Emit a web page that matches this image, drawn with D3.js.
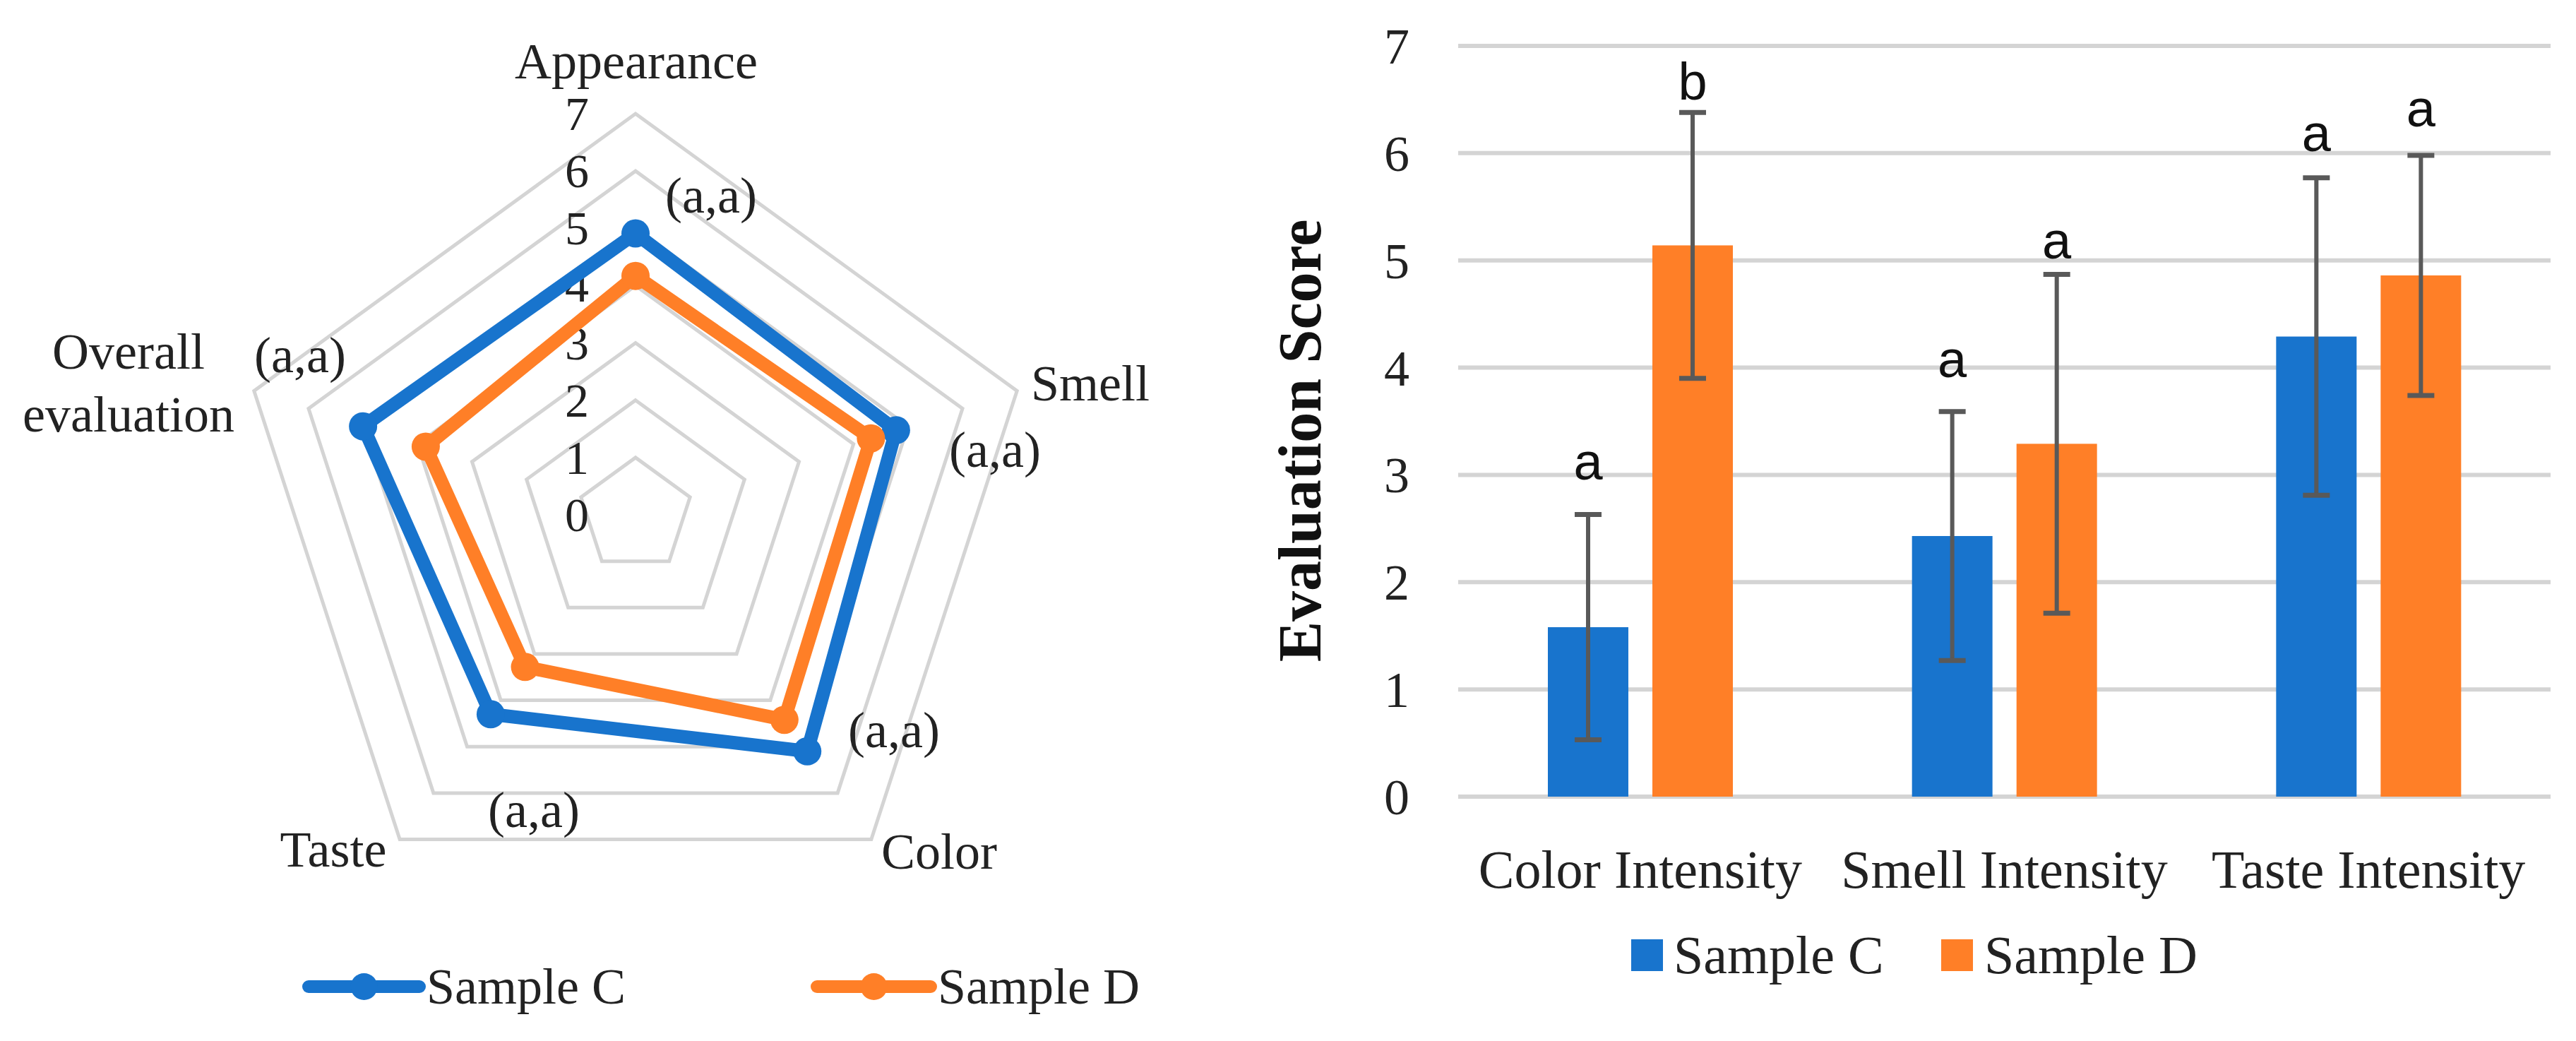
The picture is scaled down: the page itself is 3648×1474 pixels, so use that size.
<!DOCTYPE html>
<html><head><meta charset="utf-8">
<script src="https://cdn.jsdelivr.net/npm/d3@7"></script>
<style>html,body{margin:0;padding:0;background:#fff;} svg{display:block;}</style>
</head><body><svg id="chart" width="3648" height="1474"></svg>
<script>
// ---------- DATA ----------
const radarAxes = ["Appearance", "Smell", "Color", "Taste", "Overall evaluation"];
const radarSampleC = [4.91, 4.78, 5.10, 4.30, 5.00];
const radarSampleD = [4.17, 4.32, 4.42, 3.28, 3.85];
const radarSig = ["(a,a)", "(a,a)", "(a,a)", "(a,a)", "(a,a)"];
const radarTicks = [0, 1, 2, 3, 4, 5, 6, 7];

const barCategories = ["Color Intensity", "Smell Intensity", "Taste Intensity"];
const barSampleC = [1.58, 2.43, 4.29];
const barSampleD = [5.14, 3.29, 4.86];
const errSampleC = [1.05, 1.16, 1.48];
const errSampleD = [1.24, 1.58, 1.12];
const letterSampleC = ["a", "a", "a"];
const letterSampleD = ["b", "a", "a"];
const letterLevelC = [2.96, 3.91, 6.02];
const letterLevelD = [6.50, 5.02, 6.25];
const barTicks = [0, 1, 2, 3, 4, 5, 6, 7];
const seriesNames = ["Sample C", "Sample D"];

// ---------- STYLE ----------
const BLUE = "#1874CD", ORANGE = "#FF7F27", GRID = "#D4D4D4", ERR = "#595959";
const SERIF = "'Liberation Serif', 'Times New Roman', serif";
const SANS = "'Liberation Sans', Arial, sans-serif";

const svg = d3.select("#chart");

// ---------- RADAR ----------
const cx = 900, cy = 729, R = 568;
const rScale = d3.scaleLinear().domain([0, 7]).range([0, R]);
const ang = i => (-90 + 72 * i) * Math.PI / 180;
const pt = (i, v) => [cx + rScale(v) * Math.cos(ang(i)), cy + rScale(v) * Math.sin(ang(i))];

const radar = svg.append("g");
radar.selectAll("polygon.ring").data(radarTicks.filter(t => t > 0)).join("polygon")
  .attr("points", t => radarAxes.map((a, i) => pt(i, t).join(",")).join(" "))
  .attr("fill", "none").attr("stroke", GRID).attr("stroke-width", 5);

radar.selectAll("text.rt").data(radarTicks).join("text")
  .attr("x", 817).attr("y", t => cy - rScale(t))
  .attr("text-anchor", "middle").attr("dominant-baseline", "central")
  .attr("font-family", SERIF).attr("font-size", 68).attr("fill", "#222")
  .text(t => t);

const line = d3.line().curve(d3.curveLinearClosed);
const series = [{name: seriesNames[0], vals: radarSampleC, color: BLUE},
                {name: seriesNames[1], vals: radarSampleD, color: ORANGE}];
series.forEach(s => {
  radar.append("path")
    .attr("d", line(s.vals.map((v, i) => pt(i, v))))
    .attr("fill", "none").attr("stroke", s.color).attr("stroke-width", 19)
    .attr("stroke-linejoin", "round");
  radar.selectAll(null).data(s.vals).join("circle")
    .attr("cx", (v, i) => pt(i, v)[0]).attr("cy", (v, i) => pt(i, v)[1])
    .attr("r", 20).attr("fill", s.color);
});

const axisLabelPos = [
  {x: 901, y: 87},
  {x: 1544, y: 543},
  {x: 1330, y: 1206},
  {x: 472, y: 1203},
  {x: 182, y: 498}
];
radarAxes.forEach((name, i) => {
  const p = axisLabelPos[i];
  const t = radar.append("text").attr("text-anchor", "middle")
    .attr("font-family", SERIF).attr("font-size", 72).attr("fill", "#222");
  const parts = name === "Overall evaluation" ? ["Overall", "evaluation"] : [name];
  parts.forEach((ln, k) => {
    t.append("tspan").attr("x", p.x).attr("y", p.y + k * 89)
      .attr("dominant-baseline", "central").text(ln);
  });
});
const sigPos = [[1007, 277], [1409, 637], [1266, 1034], [756, 1147], [425, 503]];
radar.selectAll("text.sig").data(radarSig).join("text")
  .attr("x", (d, i) => sigPos[i][0]).attr("y", (d, i) => sigPos[i][1])
  .attr("text-anchor", "middle").attr("dominant-baseline", "central")
  .attr("font-family", SERIF).attr("font-size", 72).attr("fill", "#222")
  .text(d => d);

// radar legend
const rlegY = 1397;
const rleg = [{x0: 437, x1: 594, tx: 604}, {x0: 1157, x1: 1318, tx: 1328}];
series.forEach((s, k) => {
  const L = rleg[k];
  radar.append("line").attr("x1", L.x0).attr("x2", L.x1).attr("y1", rlegY).attr("y2", rlegY)
    .attr("stroke", s.color).attr("stroke-width", 18).attr("stroke-linecap", "round");
  radar.append("circle").attr("cx", (L.x0 + L.x1) / 2).attr("cy", rlegY).attr("r", 19).attr("fill", s.color);
  radar.append("text").attr("x", L.tx).attr("y", rlegY).attr("dominant-baseline", "central")
    .attr("font-family", SERIF).attr("font-size", 72).attr("fill", "#222").text(s.name);
});

// ---------- BAR CHART ----------
const left = 2065, right = 3612, y0 = 1128, y7 = 65;
const x0 = d3.scaleBand().domain(barCategories).range([left, right]).padding(0);
const x1 = d3.scaleBand().domain(seriesNames).range([127, 389]).paddingInner(0.23).paddingOuter(0);
const y = d3.scaleLinear().domain([0, 7]).range([y0, y7]);
const bar = svg.append("g");

bar.selectAll("line.grid").data(barTicks).join("line")
  .attr("x1", left).attr("x2", right).attr("y1", t => y(t)).attr("y2", t => y(t))
  .attr("stroke", GRID).attr("stroke-width", 6);

const yAxis = d3.axisLeft(y).tickValues(barTicks).tickFormat(d3.format("d")).tickSize(0).tickPadding(0);
const ya = bar.append("g").attr("transform", `translate(${1998},0)`).call(yAxis);
ya.select(".domain").remove();
ya.selectAll("text").attr("font-family", SERIF).attr("font-size", 72).attr("fill", "#222")
  .attr("text-anchor", "middle").attr("x", -20).attr("dy", "0.34em");

const xAxis = d3.axisBottom(x0).tickSize(0).tickPadding(0);
const xa = bar.append("g").attr("transform", `translate(0,${1231})`).call(xAxis);
xa.select(".domain").remove();
xa.selectAll("text").attr("font-family", SERIF).attr("font-size", 76).attr("fill", "#222")
  .attr("dy", "0.34em").attr("y", 0);

const barData = barCategories.map((c, i) => ([
  {cat: c, s: seriesNames[0], v: barSampleC[i], e: errSampleC[i], l: letterSampleC[i], ly: letterLevelC[i], color: BLUE},
  {cat: c, s: seriesNames[1], v: barSampleD[i], e: errSampleD[i], l: letterSampleD[i], ly: letterLevelD[i], color: ORANGE}
])).flat();

const g = bar.selectAll("g.b").data(barData).join("g")
  .attr("transform", d => `translate(${x0(d.cat) + x1(d.s)},0)`);
g.append("rect").attr("x", 0).attr("width", x1.bandwidth())
  .attr("y", d => y(d.v)).attr("height", d => y(0) - y(d.v)).attr("fill", d => d.color);
const bw = x1.bandwidth(), capW = 38;
g.append("line").attr("x1", bw / 2).attr("x2", bw / 2)
  .attr("y1", d => y(d.v + d.e)).attr("y2", d => y(d.v - d.e))
  .attr("stroke", ERR).attr("stroke-width", 6);
g.append("line").attr("x1", bw / 2 - capW / 2).attr("x2", bw / 2 + capW / 2)
  .attr("y1", d => y(d.v + d.e)).attr("y2", d => y(d.v + d.e))
  .attr("stroke", ERR).attr("stroke-width", 7);
g.append("line").attr("x1", bw / 2 - capW / 2).attr("x2", bw / 2 + capW / 2)
  .attr("y1", d => y(d.v - d.e)).attr("y2", d => y(d.v - d.e))
  .attr("stroke", ERR).attr("stroke-width", 7);
g.append("text").attr("x", bw / 2).attr("y", d => y(d.ly))
  .attr("text-anchor", "middle").attr("font-family", SANS).attr("font-size", 74).attr("fill", "#111")
  .text(d => d.l);

bar.append("text").attr("transform", `translate(1841,624) rotate(-90)`)
  .attr("text-anchor", "middle").attr("dominant-baseline", "central")
  .attr("font-family", SERIF).attr("font-weight", "bold").attr("font-size", 86).attr("fill", "#111")
  .text("Evaluation Score");

const blegY = 1352;
const bleg = [{sx: 2310, tx: 2370}, {sx: 2749, tx: 2810}];
seriesNames.forEach((n, k) => {
  bar.append("rect").attr("x", bleg[k].sx).attr("y", blegY - 22).attr("width", 45).attr("height", 45)
    .attr("fill", k === 0 ? BLUE : ORANGE);
  bar.append("text").attr("x", bleg[k].tx).attr("y", blegY).attr("dominant-baseline", "central")
    .attr("font-family", SERIF).attr("font-size", 76).attr("fill", "#222").text(n);
});
</script></body></html>
